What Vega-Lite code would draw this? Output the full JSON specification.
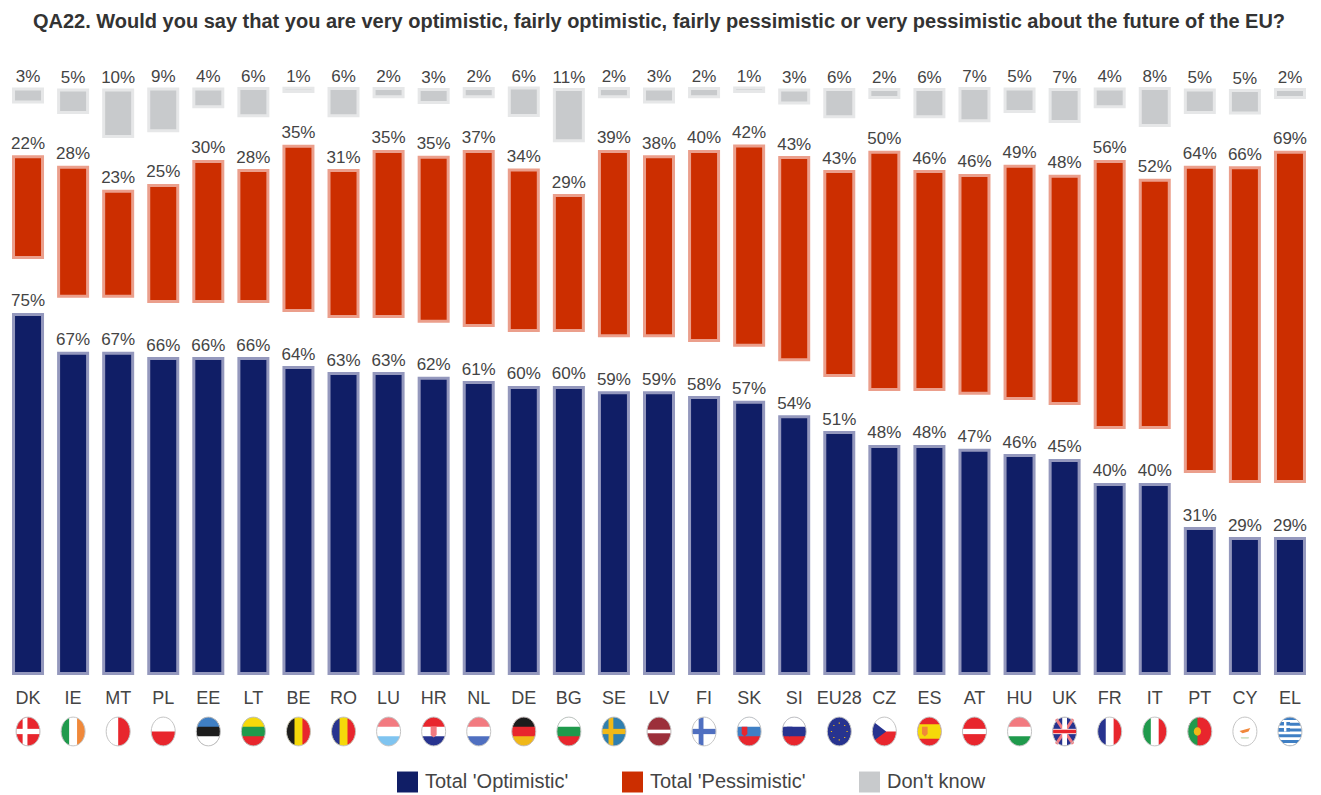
{"$schema":"https://vega.github.io/schema/vega-lite/v6.json","width":1307,"height":700.8,"autosize":{"type":"none"},"padding":{"left":5.5,"top":49.5,"right":8.5,"bottom":44.7},"background":"white","config":{"view":{"stroke":null},"font":"Liberation Sans"},
"title":{"text":"QA22. Would you say that you are very optimistic, fairly optimistic, fairly pessimistic or very pessimistic about the future of the EU?","anchor":"middle","frame":"group","fontSize":20,"fontWeight":"bold","color":"#333333","font":"Liberation Sans","offset":18},
"datasets":{"flags":[
{"c":"DK","part":"disc","tint":"red"},{"c":"DK","part":"hband","tint":"white"},{"c":"DK","part":"nordic","tint":"white"},
{"c":"IE","part":"disc","tint":"white"},{"c":"IE","part":"vleft","tint":"green"},{"c":"IE","part":"vright","tint":"orange"},
{"c":"MT","part":"disc","tint":"white"},{"c":"MT","part":"halfr","tint":"red"},
{"c":"PL","part":"disc","tint":"white"},{"c":"PL","part":"halfb","tint":"red"},
{"c":"EE","part":"disc","tint":"black"},{"c":"EE","part":"htop","tint":"blue"},{"c":"EE","part":"hbot","tint":"white"},
{"c":"LT","part":"disc","tint":"green"},{"c":"LT","part":"htop","tint":"yellow"},{"c":"LT","part":"hbot","tint":"red"},
{"c":"BE","part":"disc","tint":"yellow"},{"c":"BE","part":"vleft","tint":"black"},{"c":"BE","part":"vright","tint":"red"},
{"c":"RO","part":"disc","tint":"yellow"},{"c":"RO","part":"vleft","tint":"navy"},{"c":"RO","part":"vright","tint":"red"},
{"c":"LU","part":"disc","tint":"white"},{"c":"LU","part":"htop","tint":"salmon"},{"c":"LU","part":"hbot","tint":"sky"},
{"c":"HR","part":"disc","tint":"white"},{"c":"HR","part":"htop","tint":"red"},{"c":"HR","part":"hbot","tint":"navy"},{"c":"HR","part":"crestm","tint":"salmon"},
{"c":"NL","part":"disc","tint":"white"},{"c":"NL","part":"htop","tint":"salmon"},{"c":"NL","part":"hbot","tint":"steel"},
{"c":"DE","part":"disc","tint":"red"},{"c":"DE","part":"htop","tint":"black"},{"c":"DE","part":"hbot","tint":"gold"},
{"c":"BG","part":"disc","tint":"green"},{"c":"BG","part":"htop","tint":"white"},{"c":"BG","part":"hbot","tint":"red"},
{"c":"SE","part":"disc","tint":"teal"},{"c":"SE","part":"hband","tint":"gold"},{"c":"SE","part":"nordic","tint":"gold"},
{"c":"LV","part":"disc","tint":"maroon"},{"c":"LV","part":"hthin","tint":"white"},
{"c":"FI","part":"disc","tint":"white"},{"c":"FI","part":"hband","tint":"steel"},{"c":"FI","part":"nordic","tint":"steel"},
{"c":"SK","part":"disc","tint":"blue"},{"c":"SK","part":"htop","tint":"white"},{"c":"SK","part":"hbot","tint":"red"},{"c":"SK","part":"crest","tint":"red"},
{"c":"SI","part":"disc","tint":"navy"},{"c":"SI","part":"htop","tint":"white"},{"c":"SI","part":"hbot","tint":"red"},{"c":"SI","part":"crest","tint":"navy"},
{"c":"EU28","part":"disc","tint":"navy"},{"c":"EU28","part":"stars","tint":"gold"},
{"c":"CZ","part":"disc","tint":"white"},{"c":"CZ","part":"halfb","tint":"red"},{"c":"CZ","part":"hoist","tint":"navy"},
{"c":"ES","part":"disc","tint":"red"},{"c":"ES","part":"hwide","tint":"yellow"},{"c":"ES","part":"crest","tint":"orange"},
{"c":"AT","part":"disc","tint":"red"},{"c":"AT","part":"hband","tint":"white"},
{"c":"HU","part":"disc","tint":"white"},{"c":"HU","part":"htop","tint":"salmon"},{"c":"HU","part":"hbot","tint":"green"},
{"c":"UK","part":"disc","tint":"navy"},{"c":"UK","part":"diag1","tint":"salmon"},{"c":"UK","part":"diag2","tint":"salmon"},{"c":"UK","part":"hband","tint":"white"},{"c":"UK","part":"vband","tint":"white"},{"c":"UK","part":"hthin","tint":"red"},
{"c":"FR","part":"disc","tint":"white"},{"c":"FR","part":"vleft","tint":"navy"},{"c":"FR","part":"vright","tint":"red"},
{"c":"IT","part":"disc","tint":"white"},{"c":"IT","part":"vleft","tint":"green"},{"c":"IT","part":"vright","tint":"red"},
{"c":"PT","part":"disc","tint":"red"},{"c":"PT","part":"vleftw","tint":"green"},{"c":"PT","part":"crestc","tint":"gold"},
{"c":"CY","part":"disc","tint":"white"},{"c":"CY","part":"island","tint":"orange"},{"c":"CY","part":"branch","tint":"pale"},
{"c":"EL","part":"disc","tint":"blue"},{"c":"EL","part":"stripes","tint":"white"},{"c":"EL","part":"canton","tint":"blue"},{"c":"EL","part":"hthincanton","tint":"white"}
]},
"data":{"values":[
{"c":"DK","o":74.8,"p":21.0,"d":2.7,"lo":75,"lp":22,"ld":3},
{"c":"IE","o":66.7,"p":26.9,"d":4.7,"lo":67,"lp":28,"ld":5},
{"c":"MT","o":66.7,"p":21.9,"d":9.7,"lo":67,"lp":23,"ld":10},
{"c":"PL","o":65.6,"p":24.2,"d":8.7,"lo":66,"lp":25,"ld":9},
{"c":"EE","o":65.6,"p":29.2,"d":3.7,"lo":66,"lp":30,"ld":4},
{"c":"LT","o":65.6,"p":27.3,"d":5.7,"lo":66,"lp":28,"ld":6},
{"c":"BE","o":63.75,"p":34.2,"d":0.7,"lo":64,"lp":35,"ld":1},
{"c":"RO","o":62.5,"p":30.4,"d":5.7,"lo":63,"lp":31,"ld":6},
{"c":"LU","o":62.5,"p":34.4,"d":1.7,"lo":63,"lp":35,"ld":2},
{"c":"HR","o":61.5,"p":34.2,"d":2.7,"lo":62,"lp":35,"ld":3},
{"c":"NL","o":60.6,"p":36.3,"d":1.7,"lo":61,"lp":37,"ld":2},
{"c":"DE","o":59.6,"p":33.4,"d":5.7,"lo":60,"lp":34,"ld":6},
{"c":"BG","o":59.6,"p":28.1,"d":10.7,"lo":60,"lp":29,"ld":11},
{"c":"SE","o":58.5,"p":38.4,"d":1.7,"lo":59,"lp":39,"ld":2},
{"c":"LV","o":58.5,"p":37.3,"d":2.7,"lo":59,"lp":38,"ld":3},
{"c":"FI","o":57.5,"p":39.4,"d":1.7,"lo":58,"lp":40,"ld":2},
{"c":"SK","o":56.5,"p":41.5,"d":0.7,"lo":57,"lp":42,"ld":1},
{"c":"SI","o":53.5,"p":42.1,"d":2.7,"lo":54,"lp":43,"ld":3},
{"c":"EU28","o":50.2,"p":42.5,"d":5.7,"lo":51,"lp":43,"ld":6},
{"c":"CZ","o":47.3,"p":49.4,"d":1.7,"lo":48,"lp":50,"ld":2},
{"c":"ES","o":47.3,"p":45.4,"d":5.7,"lo":48,"lp":46,"ld":6},
{"c":"AT","o":46.5,"p":45.4,"d":6.7,"lo":47,"lp":46,"ld":7},
{"c":"HU","o":45.4,"p":48.4,"d":4.7,"lo":46,"lp":49,"ld":5},
{"c":"UK","o":44.4,"p":47.3,"d":6.7,"lo":45,"lp":48,"ld":7},
{"c":"FR","o":39.4,"p":55.4,"d":3.7,"lo":40,"lp":56,"ld":4},
{"c":"IT","o":39.4,"p":51.5,"d":7.7,"lo":40,"lp":52,"ld":8},
{"c":"PT","o":30.2,"p":63.4,"d":4.7,"lo":31,"lp":64,"ld":5},
{"c":"CY","o":28.1,"p":65.4,"d":4.7,"lo":29,"lp":66,"ld":5},
{"c":"EL","o":28.1,"p":68.6,"d":1.7,"lo":29,"lp":69,"ld":2}
]},
"transform":[
{"calculate":"datum.o+11.875","as":"p0"},
{"calculate":"datum.p0+datum.p","as":"p1"},
{"calculate":"datum.p1+11.4","as":"d0"},
{"calculate":"datum.d0+datum.d","as":"d1"},
{"calculate":"0","as":"o0"},
{"calculate":"datum.lo+'%'","as":"to"},
{"calculate":"datum.lp+'%'","as":"tp"},
{"calculate":"datum.ld+'%'","as":"td"}
],
"encoding":{"x":{"field":"c","type":"nominal","title":null,"scale":{"domain":["DK","IE","MT","PL","EE","LT","BE","RO","LU","HR","NL","DE","BG","SE","LV","FI","SK","SI","EU28","CZ","ES","AT","HU","UK","FR","IT","PT","CY","EL"],"paddingInner":0,"paddingOuter":0},"axis":{"orient":"bottom","offset":-75.3,"domain":false,"ticks":false,"grid":false,"labelAngle":0,"labelFontSize":18,"labelColor":"#444444","labelPadding":14,"labelFont":"Liberation Sans"}}},
"layer":[
{"mark":{"type":"bar","size":29,"stroke":"#9498bd","strokeWidth":3},"encoding":{"y":{"field":"o0","type":"quantitative","axis":null,"scale":{"domain":[-16,130],"nice":false,"zero":false}},"y2":{"field":"o"},"color":{"datum":"Total 'Optimistic'","scale":{"domain":["Total 'Optimistic'","Total 'Pessimistic'","Don't know"],"range":["#101e66","#cc2e00","#c8cacc"]},"legend":{"orient":"none","legendX":391.5,"legendY":722,"direction":"horizontal","columns":3,"columnPadding":53,"title":null,"symbolType":"square","symbolSize":440,"symbolStrokeWidth":0,"labelFontSize":20,"labelColor":"#444444","labelFont":"Liberation Sans","labelOffset":7}}}},
{"mark":{"type":"bar","size":29,"stroke":"#eb9f8c","strokeWidth":3},"encoding":{"y":{"field":"p0","type":"quantitative","axis":null,"scale":{"domain":[-16,130],"nice":false,"zero":false}},"y2":{"field":"p1"},"color":{"datum":"Total 'Pessimistic'"}}},
{"mark":{"type":"bar","size":29,"stroke":"#e6e7e8","strokeWidth":3},"encoding":{"y":{"field":"d0","type":"quantitative","axis":null,"scale":{"domain":[-16,130],"nice":false,"zero":false}},"y2":{"field":"d1"},"color":{"datum":"Don't know"}}},
{"mark":{"type":"text","baseline":"alphabetic","dy":-8,"fontSize":17,"color":"#444444"},"encoding":{"y":{"field":"o","type":"quantitative","axis":null,"scale":{"domain":[-16,130],"nice":false,"zero":false}},"text":{"field":"to"}}},
{"mark":{"type":"text","baseline":"alphabetic","dy":-8,"fontSize":17,"color":"#444444"},"encoding":{"y":{"field":"p1","type":"quantitative","axis":null,"scale":{"domain":[-16,130],"nice":false,"zero":false}},"text":{"field":"tp"}}},
{"mark":{"type":"text","baseline":"alphabetic","dy":-6.5,"fontSize":17,"color":"#444444"},"encoding":{"y":{"field":"d1","type":"quantitative","axis":null,"scale":{"domain":[-16,130],"nice":false,"zero":false}},"text":{"field":"td"}}},
{"data":{"name":"flags"},"mark":{"type":"point","filled":true,"size":576,"opacity":1,"strokeWidth":0},"encoding":{"y":{"datum":-12.08,"type":"quantitative","axis":null,"scale":{"domain":[-16,130],"nice":false,"zero":false}},
"fill":{"field":"tint","type":"nominal","legend":null,"scale":{"domain":["red","white","green","orange","black","blue","yellow","navy","salmon","sky","steel","gold","teal","maroon","pale"],"range":["#e8262d","#ffffff","#1f9a4c","#f0883a","#1c1c1c","#3f7fc4","#f5d90a","#27338f","#f27a80","#7fc4f0","#4f6fc0","#f0b818","#2f7fb0","#9c2f3a","#cfe3c8"]}},
"shape":{"field":"part","type":"nominal","legend":null,"scale":{"domain":["disc","vleft","vright","htop","hbot","halfb","halfr","hband","nordic","vband","hoist","crest","crestm","hthin","diag1","diag2","stars","stripes","canton","hthincanton","hwide","vleftw","crestc","island","branch"],"range":[
"M-1,0A1,1.2 0 1,1 1,0A1,1.2 0 1,1 -1,0Z",
"M-0.33,-1.13A1,1.2 0 0,0 -0.33,1.13Z",
"M0.33,-1.13A1,1.2 0 0,1 0.33,1.13Z",
"M-0.943,-0.4A1,1.2 0 0,1 0.943,-0.4Z",
"M-0.943,0.4A1,1.2 0 0,0 0.943,0.4Z",
"M-1,0A1,1.2 0 0,0 1,0Z",
"M0,-1.2A1,1.2 0 0,1 0,1.2Z",
"M-0.98,-0.22L0.98,-0.22L0.98,0.22L-0.98,0.22Z",
"M-0.45,-1.07L-0.05,-1.2L-0.05,1.2L-0.45,1.07Z",
"M-0.2,-1.18L0.2,-1.18L0.2,1.18L-0.2,1.18Z",
"M-0.8,-0.72L0.15,0L-0.8,0.72A1,1.2 0 0,1 -0.8,-0.72Z",
"M-0.62,-0.4L-0.15,-0.4L-0.15,0.2L-0.38,0.42L-0.62,0.2Z",
"M-0.25,-0.4L0.25,-0.4L0.25,0.3L0,0.5L-0.25,0.3Z",
"M-0.99,-0.15L0.99,-0.15L0.99,0.15L-0.99,0.15Z",
"M-0.8,-0.95L-0.6,-1.1L0.8,0.95L0.6,1.1Z",
"M0.8,-0.95L0.6,-1.1L-0.8,0.95L-0.6,1.1Z",
"M-0.05,-0.75h0.1v0.1h-0.1ZM-0.05,0.65h0.1v0.1h-0.1ZM-0.7,-0.05h0.1v0.1h-0.1ZM0.6,-0.05h0.1v0.1h-0.1ZM-0.5,-0.55h0.1v0.1h-0.1ZM0.4,-0.55h0.1v0.1h-0.1ZM-0.5,0.45h0.1v0.1h-0.1ZM0.4,0.45h0.1v0.1h-0.1Z",
"M-0.6,-0.96L0.6,-0.96L0.78,-0.72L-0.78,-0.72ZM0,-0.48L0.93,-0.48L0.98,-0.24L0,-0.24ZM-1,0L1,0L0.98,0.24L-0.98,0.24ZM-0.93,0.48L0.93,0.48L0.78,0.72L-0.78,0.72ZM-0.6,0.96L0.6,0.96L0.2,1.17L-0.2,1.17Z",
"M-0.75,-0.8L0,-0.8L0,0L-0.98,0L-0.98,-0.3Z",
"M-0.98,-0.5L0,-0.5L0,-0.3L-0.98,-0.3ZM-0.5,-0.95L-0.3,-0.95L-0.3,0L-0.5,0Z",
"M-0.866,-0.6L0.866,-0.6L1,0L0.866,0.6L-0.866,0.6L-1,0Z",
"M-0.2,-1.176A1,1.2 0 0,0 -0.2,1.176Z",
"M-0.5,0A0.3,0.35 0 1,1 0.1,0A0.3,0.35 0 1,1 -0.5,0Z",
"M-0.45,-0.05L0.45,-0.3L0.3,0L-0.2,0.15Z",
"M-0.35,0.45L0.35,0.45L0.3,0.6L-0.3,0.6Z"]}}}},
{"mark":{"type":"point","filled":false,"size":576,"opacity":1,"stroke":"#c4c4c4","strokeWidth":1},"encoding":{"y":{"datum":-12.08,"type":"quantitative","axis":null,"scale":{"domain":[-16,130],"nice":false,"zero":false}},"shape":{"datum":"disc"}}}
]}
